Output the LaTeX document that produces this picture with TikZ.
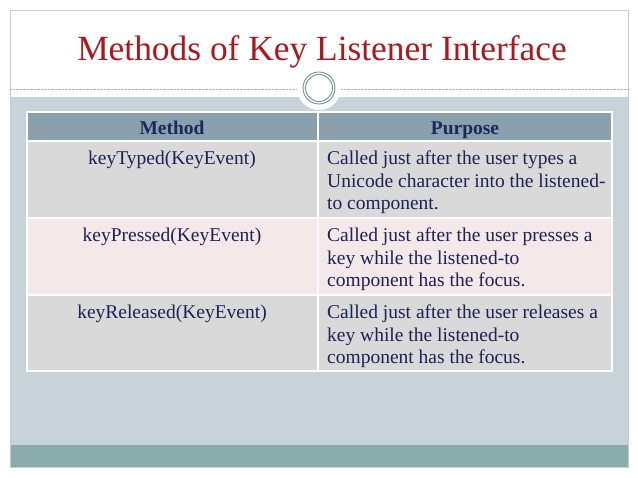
\documentclass[tikz,border=0pt]{standalone}
\usepackage{fontspec}
\setmainfont{Liberation Serif}
\usepackage{xcolor}
\usetikzlibrary{positioning}
\definecolor{titlered}{HTML}{B0171C}
\definecolor{panelgray}{HTML}{C8D3D9}
\definecolor{bandteal}{HTML}{8BACAD}
\definecolor{headblue}{HTML}{8AA0AC}
\definecolor{rowgray}{HTML}{D9D9D9}
\definecolor{rowpink}{HTML}{F5E8E8}
\definecolor{inknavy}{HTML}{1C2354}
\definecolor{headnavy}{HTML}{182A5E}
\definecolor{ringteal}{HTML}{6E9196}
\definecolor{framegray}{HTML}{C3CDD2}

\tikzset{
  cell/.style={draw=white, line width=1.5pt},
  methodtext/.style={anchor=base, text=inknavy, font=\fontsize{19.5}{22.5}\selectfont},
  purposetext/.style={anchor=base west, text width=285pt, align=left, inner sep=0pt,
    text=inknavy, font=\fontsize{19.5}{22.5}\selectfont,
    execute at begin node={\spaceskip=0pt\xspaceskip=0pt}},
  headtext/.style={anchor=base, text=headnavy, font=\fontsize{19.5}{22.5}\selectfont\bfseries}
}

\begin{document}
\begin{tikzpicture}[x=1pt, y=-1pt]
  \useasboundingbox (0,0) rectangle (638,478);
  \fill[white] (0,0) rectangle (638,478);
  % slide background
  \fill[panelgray] (10,97) rectangle (628,445);
  \fill[bandteal] (10,445) rectangle (628,467);
  \draw[framegray] (10,10) rectangle (628,467);
  \draw[gray!60, densely dotted] (10,89) -- (297,89);
  \draw[gray!60, densely dotted] (341,89) -- (628,89);
  \fill[white] (319,88) circle (22);
  \draw[ringteal, line width=0.9pt] (319,88) circle (16);
  \draw[ringteal, line width=0.9pt] (319,88) circle (13.5);
  \node [anchor=base, text=titlered, font=\fontsize{35.4}{42}\selectfont] (title) at (322,61) {Methods of Key Listener Interface};

  % table
  \fill[headblue] (27,112) rectangle (612,141);
  \fill[rowgray] (27,141) rectangle (612,218);
  \fill[rowpink] (27,218) rectangle (612,295);
  \fill[rowgray] (27,295) rectangle (612,371);
  \draw[cell] (27,112) rectangle (612,371);
  \draw[cell] (27,141) -- (612,141);
  \draw[cell] (27,218) -- (612,218);
  \draw[cell] (27,295) -- (612,295);
  \draw[cell] (318,112) -- (318,371);

  \node [headtext] (method) at (172,135) {Method};
  \node [headtext] (purpose) at (465,135) {Purpose};

  \node [methodtext] (typed) at (172,165) {keyTyped(KeyEvent)};
  \node [purposetext] (typedinfo) at (327,165) {Called just after the user types a\\Unicode character into the listened-\\to component.};

  \node [methodtext] (pressed) at (172,242) {keyPressed(KeyEvent)};
  \node [purposetext] (pressedinfo) at (327,242) {Called just after the user presses a\\key while the listened-to\\component has the focus.};

  \node [methodtext] (released) at (172,319) {keyReleased(KeyEvent)};
  \node [purposetext] (releasedinfo) at (327,319) {Called just after the user releases a\\key while the listened-to\\component has the focus.};
\end{tikzpicture}
\end{document}
